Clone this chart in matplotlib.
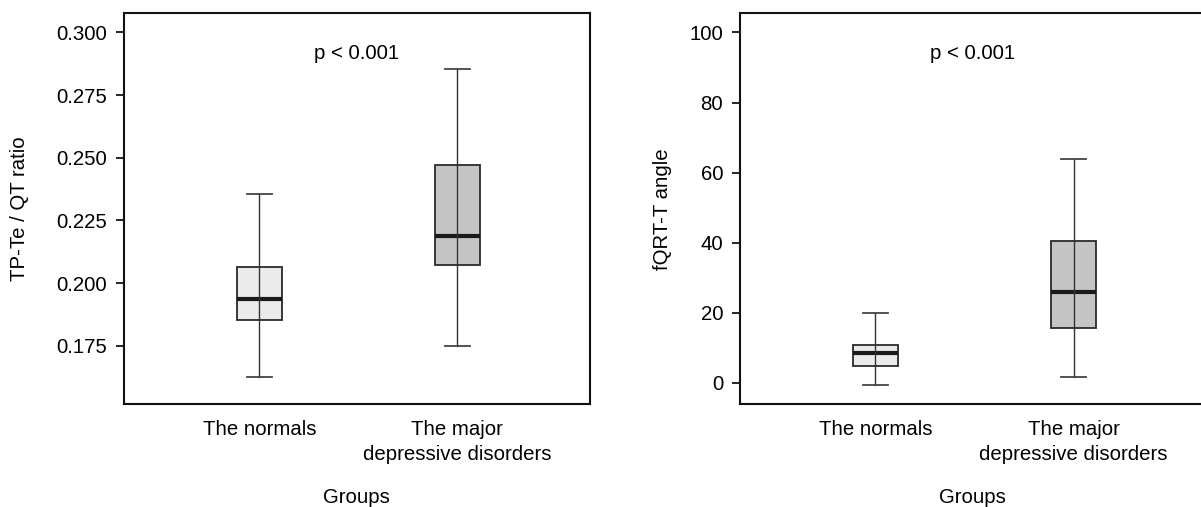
import matplotlib
matplotlib.use("Agg")
import matplotlib.pyplot as plt

plt.rcParams['font.family'] = ['Liberation Sans', 'DejaVu Sans']

groups = ["The normals", "The major\ndepressive disorders"]
fill_colors = ["#EBEBEB", "#C4C5C4"]

# TP-Te / QT ratio: whisker low, Q1, median, Q3, whisker high
tp_whislo = [0.1626, 0.1750]
tp_q1 = [0.1853, 0.2071]
tp_med = [0.1935, 0.2189]
tp_q3 = [0.2064, 0.2473]
tp_whishi = [0.2354, 0.2854]
tp_ticks = [0.175, 0.200, 0.225, 0.250, 0.275, 0.300]
tp_ticklabels = ["0.175", "0.200", "0.225", "0.250", "0.275", "0.300"]

# fQRT-T angle
an_whislo = [-0.5, 1.6]
an_q1 = [4.85, 15.7]
an_med = [8.6, 25.8]
an_q3 = [10.7, 40.6]
an_whishi = [19.9, 63.8]
an_ticks = [0, 20, 40, 60, 80, 100]
an_ticklabels = ["0", "20", "40", "60", "80", "100"]

p_text = "p < 0.001"
FS = 14.7

fig = plt.figure(figsize=(12.01, 5.07), dpi=100)
ax1 = fig.add_axes([0.103, 0.2026, 0.388, 0.7714])
ax2 = fig.add_axes([0.616, 0.2026, 0.388, 0.7714])

def draw(ax, wl, q1, med, q3, wh, ticks, ticklabels, ylim, ylabel, ptext_y, ylab_x):
    positions = [1, 2]
    stats = []
    for i in range(len(groups)):
        stats.append(dict(whislo=wl[i], q1=q1[i], med=med[i], q3=q3[i],
                          whishi=wh[i], fliers=[], label=groups[i]))
    bp = ax.bxp(stats, positions=positions, widths=0.227, patch_artist=True,
                showfliers=False,
                boxprops=dict(edgecolor="#2a2a2a", linewidth=1.3),
                medianprops=dict(color="#1a1a1a", linewidth=3.0),
                whiskerprops=dict(color="#333333", linewidth=1.0),
                capprops=dict(color="#444444", linewidth=1.3),
                capwidths=0.125)
    for patch, c in zip(bp['boxes'], fill_colors):
        patch.set_facecolor(c)
    # whisker line runs through the box
    ax.vlines(positions, q1, q3, color="#333333", linewidth=1.0, zorder=3)
    ax.set_xlim(0.315, 2.668)
    ax.set_ylim(*ylim)
    ax.set_yticks(ticks)
    ax.set_yticklabels(ticklabels, fontsize=FS)
    ax.set_xticks(positions)
    ax.set_xticklabels(groups, fontsize=FS, linespacing=1.4)
    ax.tick_params(axis='x', length=0, pad=11)
    ax.tick_params(axis='y', length=6, width=1.2, pad=6)
    for s in ax.spines.values():
        s.set_linewidth(1.5)
        s.set_color("#111111")
    ax.set_ylabel(ylabel, fontsize=FS)
    ax.yaxis.set_label_coords(ylab_x, 0.5)
    ax.yaxis.label.set_va('center')
    ax.set_xlabel("Groups", fontsize=FS)
    ax.xaxis.set_label_coords(0.5, -0.238)
    ax.xaxis.label.set_va('center')
    ax.text(0.5, ptext_y, p_text, transform=ax.get_yaxis_transform(),
            ha='center', va='center', fontsize=FS)

draw(ax1, tp_whislo, tp_q1, tp_med, tp_q3, tp_whishi, tp_ticks, tp_ticklabels,
     (0.1516, 0.3077), "TP-Te / QT ratio", 0.2917, -0.223)
draw(ax2, an_whislo, an_q1, an_med, an_q3, an_whishi, an_ticks, an_ticklabels,
     (-6.1, 105.5), "fQRT-T angle", 94.1, -0.165)

fig.savefig("out.png", dpi=100)
